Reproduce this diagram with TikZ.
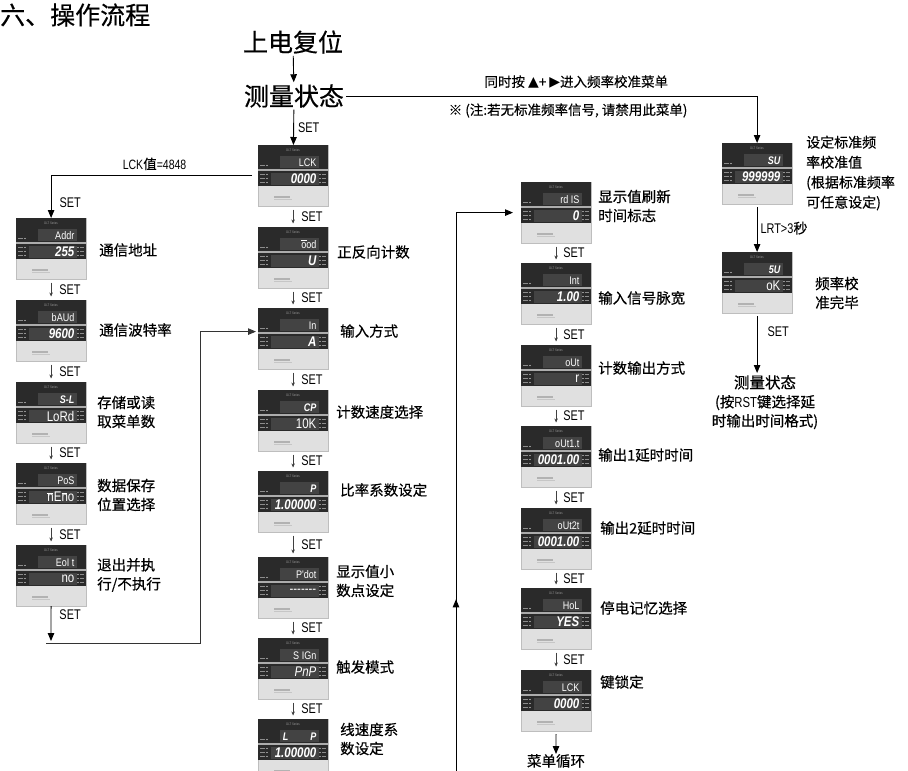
\documentclass[tikz,border=0pt]{standalone}
\usepackage{fontspec}
\setmainfont{Noto Sans CJK SC}[FakeBold=0.4]
\newfontfamily\latf{Liberation Sans}[FakeStretch=0.78]
\newfontfamily\segf{Liberation Sans}[FakeStretch=0.82]
\newfontfamily\symf{DejaVu Sans}
\usetikzlibrary{arrows.meta,positioning,calc,decorations.markings}
\definecolor{mDark}{HTML}{2A2A2A}
\definecolor{mWin}{HTML}{434343}
\definecolor{mFace}{HTML}{E0E0E0}
\definecolor{mLed}{HTML}{8C8C8C}
\tikzset{
  meterbox/.style={fill=mFace, draw=mFace!85!black, line width=0.2pt, minimum width=70pt,
    minimum height=61pt, inner sep=0pt, anchor=north west},
  segup/.style={anchor=east, inner sep=0pt, text=white, font=\segf\fontsize{11}{11}\selectfont},
  seglow/.style={anchor=east, inner sep=0pt, text=white,
    font=\segf\bfseries\itshape\fontsize{14}{14}\selectfont},
  tinytxt/.style={inner sep=0pt, text=gray!80, font=\latf\fontsize{3.5}{3.5}\selectfont},
  lbl/.style={anchor=west, align=left, inner sep=0pt, font=\fontsize{14.5}{19}\selectfont},
  big/.style={inner sep=2pt, font=\fontsize{25}{25}\selectfont},
  note/.style={inner sep=0pt, font=\fontsize{13.5}{14}\selectfont},
  flow/.style={-{Triangle[length=8pt,width=6.5pt]}, line width=0.9pt},
  sflow/.style={-{Stealth[length=4pt,width=3.5pt]}, line width=0.6pt, black!75,
    shorten <=3.5pt, shorten >=3.5pt},
  setlbl/.style={right=8pt, inner sep=0pt, text=black, font=\latf\fontsize{14}{14}\selectfont},
  loopline/.style={flow, draw=black!80},
  midarrow/.style={postaction={decorate}, decoration={markings,
    mark=at position 0.28 with {\arrow{Triangle[length=8pt,width=6.5pt]}}}},
}
% seven segment letter with a bar on top
\newcommand{\segbar}[1]{\leavevmode\rlap{\raisebox{7.5pt}{\rule{5.5pt}{0.9pt}}}#1}
% panel meter: name, top left corner, upper display, lower display
\newcommand{\panelmeter}[4]{%
  \node[meterbox] (#1) at (#2) {};
  \fill[mDark] (#1.north west) rectangle ++(70,41);
  \fill[mWin] ($(#1.north west)+(22,11)$) rectangle ++(39,12);
  \fill[mWin] ($(#1.north west)+(13,27.5)$) rectangle ++(48,12);
  \draw[gray!65, line width=1.2pt] ($(#1.north west)+(0,25)$) -- ++(70,0);
  \node[tinytxt] (#1-hd) at ($(#1.north west)+(35,5.5)$) {OLT Series};
  \node[segup] (#1-up) at ($(#1.north west)+(58.5,17.5)$) {#3};
  \node[seglow] (#1-lo) at ($(#1.north west)+(58.5,34)$) {#4};
  \foreach \ly in {21,30,34,38} {
    \fill[mLed] ($(#1.north west)+(2,\ly)$) rectangle ++(5,-1);
    \fill[white] ($(#1.north west)+(9,\ly-0.5)$) circle (0.7);
  }
  \foreach \ly in {30,34,38} {
    \fill[white] ($(#1.north west)+(62,\ly-0.5)$) circle (0.7);
    \fill[mLed] ($(#1.north west)+(64,\ly)$) rectangle ++(4,-1);
  }
  \fill[gray!60] ($(#1.north west)+(16,51)$) rectangle ++(16,1.5);
  \fill[gray!45] ($(#1.north west)+(16,54)$) rectangle ++(18,1);
}

\begin{document}
\begin{tikzpicture}[x=1pt, y=-1pt]
  \useasboundingbox (0,0) rectangle (908,771);
  \fill[white] (0,0) rectangle (908,771);

  \node[big, anchor=west, inner sep=0pt] (title) at (0,15) {六、操作流程};
  \node[big] (pwr) at (293,42) {上电复位};
  \node[big] (meas) at (294,96) {测量状态};

  % left column
  \panelmeter{addr}{16,218}{Addr}{255}
  \panelmeter{baud}{16,300}{bAUd}{9600}
  \panelmeter{sl}{16,382}{\bfseries\itshape S-L}{\mdseries\upshape LoRd}
  \panelmeter{psel}{16,463}{PoS}{\mdseries\upshape \segbar{n}E\segbar{n}o}
  \panelmeter{eolt}{16,545}{EoI t}{\mdseries\upshape no}

  % middle column
  \panelmeter{lck}{258,145}{LCK}{0000}
  \panelmeter{ood}{258,227}{\segbar{o}od}{U}
  \panelmeter{inp}{258,308}{In}{A}
  \panelmeter{cp}{258,390}{\bfseries\itshape CP}{\mdseries\upshape 10K}
  \panelmeter{ratio}{258,471}{\bfseries\itshape P}{1.00000}
  \panelmeter{pdot}{258,557}{P'dot}{\mdseries\upshape {-}{-}{-}{-}{-}{-}{-}}
  \panelmeter{sign}{258,638}{S IGn}{\mdseries PnP}
  \panelmeter{lsp}{258,719}{\bfseries\itshape L\hspace{22pt}P}{1.00000}

  % right column
  \panelmeter{rdis}{521,182}{rd IS}{0}
  \panelmeter{intw}{521,263}{Int}{1.00}
  \panelmeter{outm}{521,345}{oUt}{\mdseries\upshape r}
  \panelmeter{outa}{521,426}{oUt1.t}{0001.00}
  \panelmeter{outb}{521,508}{oUt2t}{0001.00}
  \panelmeter{hol}{521,588}{HoL}{YES}
  \panelmeter{lckb}{521,670}{LCK}{0000}

  % calibration branch
  \panelmeter{su}{722,143}{\bfseries\itshape SU}{999999}
  \panelmeter{fiveu}{722,252}{\bfseries\itshape 5U}{\mdseries\upshape oK}

  % captions
  \node[lbl] (t-addr) at (99,250) {通信地址};
  \node[lbl] (t-baud) at (99,330) {通信波特率};
  \node[lbl] (t-sl) at (97,412) {存储或读\\取菜单数};
  \node[lbl] (t-psel) at (97,495) {数据保存\\位置选择};
  \node[lbl] (t-eolt) at (97,575) {退出并执\\行/不执行};
  \node[lbl] (t-ood) at (337,252) {正反向计数};
  \node[lbl] (t-inp) at (340,331) {输入方式};
  \node[lbl] (t-cp) at (336,412) {计数速度选择};
  \node[lbl] (t-ratio) at (340,490) {比率系数设定};
  \node[lbl] (t-pdot) at (336,581) {显示值小\\数点设定};
  \node[lbl] (t-sign) at (336,667) {触发模式};
  \node[lbl] (t-lsp) at (340,739) {线速度系\\数设定};
  \node[lbl] (t-rdis) at (598,206) {显示值刷新\\时间标志};
  \node[lbl] (t-intw) at (598,298) {输入信号脉宽};
  \node[lbl] (t-outm) at (598,368) {计数输出方式};
  \node[lbl] (t-outa) at (598,455) {输出1延时时间};
  \node[lbl] (t-outb) at (600,528) {输出2延时时间};
  \node[lbl] (t-hol) at (600,608) {停电记忆选择};
  \node[lbl] (t-lckb) at (600,682) {键锁定};
  \node[lbl, font=\fontsize{14}{20}\selectfont] (t-su) at (806,173)
    {设定标准频\\ 率校准值\\(根据标准频率\\ 可任意设定)};
  \node[lbl] (t-fiveu) at (815,293) {频率校\\准完毕};
  \node[lbl, anchor=north] (cyc) at (556,754) {菜单循环};
  \node[lbl, anchor=north, align=center] (meas2) at (765,375)
    {{\fontsize{15.5}{19}\selectfont 测量状态}\\(按{\latf RST}键选择延\\时输出时间格式)};

  % main path
  \draw[flow] (pwr) -- (meas);
  \draw[flow] (meas) -- node[setlbl, right=4pt]{SET} (lck);
  \draw[flow] (meas.east) -| node[note, pos=0.28, above=7pt]
      {同时按 {\symf\fontsize{14}{14}\selectfont ▲}+ {\symf\fontsize{14}{14}\selectfont ▶}进入频率校准菜单}
    node[note, pos=0.27, below=7pt]{※ (注:若无标准频率信号, 请禁用此菜单)} (su.north);
  \draw[flow, shorten <=6pt] (lck.west) -| node[note, pos=0.25, above=5pt]
      {{\latf LCK}值{\latf =4848}} node[setlbl, pos=0.82]{SET} (addr.north);

  % menu steps
  \draw[sflow] (addr) -- node[setlbl]{SET} (baud);
  \draw[sflow] (baud) -- node[setlbl]{SET} (sl);
  \draw[sflow] (sl) -- node[setlbl]{SET} (psel);
  \draw[sflow] (psel) -- node[setlbl]{SET} (eolt);
  \draw[sflow] (lck) -- node[setlbl]{SET} (ood);
  \draw[sflow] (ood) -- node[setlbl]{SET} (inp);
  \draw[sflow] (inp) -- node[setlbl]{SET} (cp);
  \draw[sflow] (cp) -- node[setlbl]{SET} (ratio);
  \draw[sflow] (ratio) -- node[setlbl]{SET} (pdot);
  \draw[sflow] (pdot) -- node[setlbl]{SET} (sign);
  \draw[sflow] (sign) -- node[setlbl]{SET} (lsp);
  \draw[sflow] (rdis) -- node[setlbl, right=7pt]{SET} (intw);
  \draw[sflow] (intw) -- node[setlbl, right=7pt]{SET} (outm);
  \draw[sflow] (outm) -- node[setlbl, right=7pt]{SET} (outa);
  \draw[sflow] (outa) -- node[setlbl, right=7pt]{SET} (outb);
  \draw[sflow] (outb) -- node[setlbl, right=7pt]{SET} (hol);
  \draw[sflow] (hol) -- node[setlbl, right=7pt]{SET} (lckb);
  \draw[flow, shorten <=3pt] (lckb) -- (cyc);

  % loops back
  \coordinate (loopA) at (51,641);
  \coordinate (loopL) at (46,643);
  \coordinate (loopR) at (200,643);
  \draw[flow] (eolt) -- node[setlbl, pos=0.25]{SET} (loopA);
  \draw[loopline, shorten >=2pt] (loopL) -- (loopR) |- ([yshift=7pt]inp.west);
  \coordinate (loopB) at (456,775);
  \draw[flow, midarrow, shorten >=8pt] (loopB) |- (rdis.west);

  % calibration
  \draw[flow, shorten <=3pt] (su) -- node[setlbl, right=3pt]{LRT>3{\rmfamily 秒}} (fiveu);
  \draw[flow, shorten <=3pt, shorten >=2pt] (fiveu) -- node[setlbl, pos=0.3, right=10pt]{SET}
    (fiveu |- meas2.north);
\end{tikzpicture}
\end{document}
